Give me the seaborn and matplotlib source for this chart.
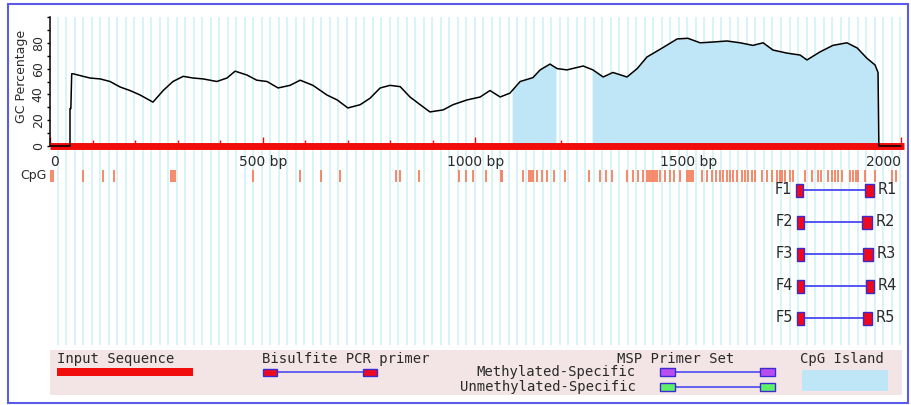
import numpy as np
import matplotlib
matplotlib.use("Agg")
import matplotlib.pyplot as plt
from matplotlib.patches import Rectangle
import seaborn as sns

# ---------------- data ----------------
seq_len = 2000
gc_pos = [0, 47, 47, 49, 51, 54, 78, 94, 118, 141, 165, 188, 212, 242, 266, 289, 313, 336,
          360, 392, 416, 435, 463, 486, 510, 536, 564, 588, 618, 651, 675, 700, 729, 752,
          776, 799, 823, 846, 870, 893, 924, 947, 980, 1011, 1034, 1058, 1081, 1105, 1135,
          1152, 1175, 1192, 1215, 1253, 1276, 1300, 1323, 1356, 1380, 1403, 1434, 1474,
          1499, 1528, 1558, 1591, 1622, 1652, 1676, 1699, 1732, 1763, 1779, 1810, 1840,
          1873, 1897, 1920, 1939, 1946, 1948, 2000]
gc_pct = [0, 0, 29, 29, 56, 56, 54, 52.7, 52, 50, 45.7, 43, 39.5, 34, 43, 50, 54, 52.7,
          52, 50, 52.7, 58, 55, 51, 50, 45, 47, 51, 47, 39.5, 35.7, 29.5, 32, 37,
          45, 47, 46, 38, 32, 26.4, 28, 32, 35.7, 38, 43, 38, 41, 50, 53,
          59, 63.5, 60, 59, 62, 59, 53.5, 57, 53.5, 60, 69, 75, 83,
          83.5, 80, 80.6, 81.4, 80, 78, 80, 74.4, 72, 70.5, 66.7, 73, 78,
          80, 76, 68, 62.8, 57, 0, 0]
island_start = [1086, 1274]
island_end = [1189, 1947]
cpg_sites = [2, 8, 78, 124, 150, 284, 290, 294, 478, 588, 637, 682, 813, 823, 868,
             962, 978, 995, 1024, 1060, 1063, 1111, 1126, 1130, 1134, 1144, 1156, 1167,
             1185, 1210, 1267, 1293, 1306, 1320, 1355, 1369, 1381, 1393, 1403, 1408, 1413,
             1417, 1422, 1427, 1434, 1445, 1457, 1467, 1481, 1497, 1502, 1506, 1511, 1532,
             1543, 1555, 1565, 1575, 1582, 1590, 1598, 1605, 1614, 1626, 1633, 1640, 1650,
             1657, 1673, 1684, 1696, 1708, 1716, 1721, 1727, 1739, 1746, 1774, 1790, 1806,
             1811, 1829, 1837, 1845, 1853, 1861, 1880, 1887, 1894, 1899, 1915, 1939, 1978,
             1988]
primer_ids = ["1", "2", "3", "4", "5"]
fwd_start = [1753, 1755, 1755, 1755, 1755]
fwd_end = [1770, 1772, 1772, 1772, 1772]
rev_start = [1915, 1908, 1911, 1918, 1911]
rev_end = [1937, 1932, 1934, 1937, 1932]
xtick_pos = [0, 500, 1000, 1500, 2000]
xtick_labels = ["0", "500 bp", "1000 bp", "1500 bp", "2000"]
ytick_major = [0, 20, 40, 60, 80]
ytick_minor = [10, 30, 50, 70, 90, 100]

# ---------------- style ----------------
sns.set_style("white")
plt.rcParams["font.family"] = ["DejaVu Sans"]
TXT = "#2a2a2a"
RED = "#f20d0d"
PRIMER_RED = "#ee0a1e"
PRIMER_EDGE = "#3a2bd0"
PRIMER_LINE = "#4a4af0"
CPG_COL = "#f4805e"
ISLAND = "#bfe6f6"
STRIPE = "#d2f2f5"

W, H = 912, 405
fig = plt.figure(figsize=(W / 100, H / 100), dpi=100)
fig.patch.set_facecolor("white")

# main axes: x in bp, y in GC % (negative region holds CpG / primer rows)
ax_l, ax_r, ax_t, ax_b = 50, 906, 17, 345
px_per_pct = 1.29
y0_px = 146
ymin = -(ax_b - y0_px) / px_per_pct
ax = fig.add_axes([ax_l / W, 1 - ax_b / H, (ax_r - ax_l) / W, (ax_b - ax_t) / H])
ax.set_xlim(0, (ax_r - ax_l) / 0.4255)
ax.set_ylim(ymin, 100)
ax.set_facecolor("white")

def row_y(px):
    return (y0_px - px) / px_per_pct

# background stripes
ax.vlines(np.arange(18, 2012, 20), ymin, 100, color=STRIPE, lw=1.2, zorder=0)

# CpG island shading
for s, e in zip(island_start, island_end):
    xs = [s] + [p for p in gc_pos if s < p < e] + [e]
    ys = np.interp(xs, gc_pos, gc_pct)
    ax.fill_between(xs, 0, ys, color=ISLAND, lw=0, zorder=1)

# GC curve
sns.lineplot(x=gc_pos, y=gc_pct, ax=ax, estimator=None, sort=False,
             color="black", lw=1.1, zorder=4)

# bottom spine = red sequence bar at y=0
for s in ["top", "right"]:
    ax.spines[s].set_visible(False)
ax.spines["bottom"].set_position(("data", 0))
ax.spines["bottom"].set_color(RED)
ax.spines["bottom"].set_linewidth(5)
ax.spines["bottom"].set_bounds(0, 2008)
ax.spines["bottom"].set_capstyle("butt")
ax.spines["bottom"].set_zorder(3)
ax.spines["left"].set_bounds(0, 100)
ax.spines["left"].set_color("black")
ax.spines["left"].set_linewidth(1.1)

ax.set_xticks(xtick_pos)
ax.set_xticklabels(xtick_labels)
ax.set_xticks([v for v in range(100, 2001, 100) if v % 500], minor=True)
ax.tick_params(axis="x", which="major", direction="in", length=6.5, width=1.0,
               color=RED, labelsize=10, labelcolor=TXT, pad=6.5, bottom=True)
ax.tick_params(axis="x", which="minor", direction="in", length=4.3, width=1.0,
               color=RED, bottom=True)
labs = ax.get_xticklabels()
labs[0].set_ha("left")
labs[-1].set_ha("right")

ax.set_yticks(ytick_major)
ax.set_yticklabels([str(v) for v in ytick_major])
ax.set_yticks(ytick_minor, minor=True)
ax.tick_params(axis="y", which="both", direction="out", length=2.3, width=1.0,
               color="black", left=True, labelsize=9, labelcolor=TXT, pad=1.5)
for t in ax.get_yticklabels():
    t.set_rotation(90)
    t.set_va("center")
ax.set_ylabel("GC Percentage", fontsize=9, color=TXT)
ax.yaxis.set_label_coords((28 - ax_l) / (ax_r - ax_l), (ax_b - 76.5) / (ax_b - ax_t))
ax.set_xlabel("")

# CpG row
cpg_y = row_y(176)
ax.vlines(cpg_sites, row_y(182), row_y(170), color=CPG_COL, lw=1.3, zorder=3)
ax.text(-8, cpg_y, "CpG", ha="right", va="center", fontsize=9, color=TXT)

# primer rows
box_h = 13 / px_per_pct
for i, pid in enumerate(primer_ids):
    yc = row_y(190 + 32 * i)
    ax.hlines(yc, fwd_end[i], rev_start[i], color=PRIMER_LINE, lw=1.3, zorder=3)
    for s, e in [(fwd_start[i], fwd_end[i]), (rev_start[i], rev_end[i])]:
        ax.add_patch(Rectangle((s, yc - box_h / 2), e - s, box_h, facecolor=PRIMER_RED,
                               edgecolor=PRIMER_EDGE, lw=1.0, zorder=4))
    ax.annotate("F" + pid, (fwd_start[i], yc), xytext=(-2.5, 0), textcoords="offset points",
                ha="right", va="center", fontsize=10.5, color=TXT)
    ax.annotate("R" + pid, (rev_end[i], yc), xytext=(2.5, 0), textcoords="offset points",
                ha="left", va="center", fontsize=10.5, color=TXT)

# ---------------- legend band ----------------
lb_l, lb_r, lb_t, lb_b = 50, 902, 350, 395
lax = fig.add_axes([lb_l / W, 1 - lb_b / H, (lb_r - lb_l) / W, (lb_b - lb_t) / H])
lax.set_xlim(lb_l, lb_r)
lax.set_ylim(lb_b, lb_t)
lax.set_facecolor("#f3e5e5")
lax.set_xticks([])
lax.set_yticks([])
for s in lax.spines.values():
    s.set_visible(False)
mono = dict(family="DejaVu Sans Mono", fontsize=10, color=TXT, va="center")

lax.text(57, 359, "Input Sequence", ha="left", **mono)
lax.add_patch(Rectangle((57, 368.5), 136, 8, facecolor=RED, edgecolor="none"))

lax.text(262, 359, "Bisulfite PCR primer", ha="left", **mono)
lax.plot([278, 363], [372.5, 372.5], color=PRIMER_LINE, lw=1.2)
for bx in [263, 363]:
    lax.add_patch(Rectangle((bx, 369), 14.5, 7.5, facecolor=PRIMER_RED,
                            edgecolor=PRIMER_EDGE, lw=1.0, zorder=3))

lax.text(617, 359, "MSP Primer Set", ha="left", **mono)
lax.text(636, 372, "Methylated-Specific", ha="right", **mono)
lax.text(636, 387, "Unmethylated-Specific", ha="right", **mono)
for yc, col in [(372, "#b84ef0"), (387, "#5ef06a")]:
    lax.plot([675, 760], [yc, yc], color=PRIMER_LINE, lw=1.2)
    for bx in [660, 760]:
        lax.add_patch(Rectangle((bx, yc - 3.7), 15, 7.4, facecolor=col,
                                edgecolor=PRIMER_EDGE, lw=1.0, zorder=3))

lax.text(800, 359, "CpG Island", ha="left", **mono)
lax.add_patch(Rectangle((802, 370), 86, 21, facecolor=ISLAND, edgecolor="none"))

# outer frame
fig.patches.append(Rectangle((8 / W, 1 - 403 / H), 900 / W, 399 / H, transform=fig.transFigure,
                             fill=False, edgecolor="#5b5be8", lw=1.5))

fig.savefig("out.png", dpi=100, facecolor="white")
